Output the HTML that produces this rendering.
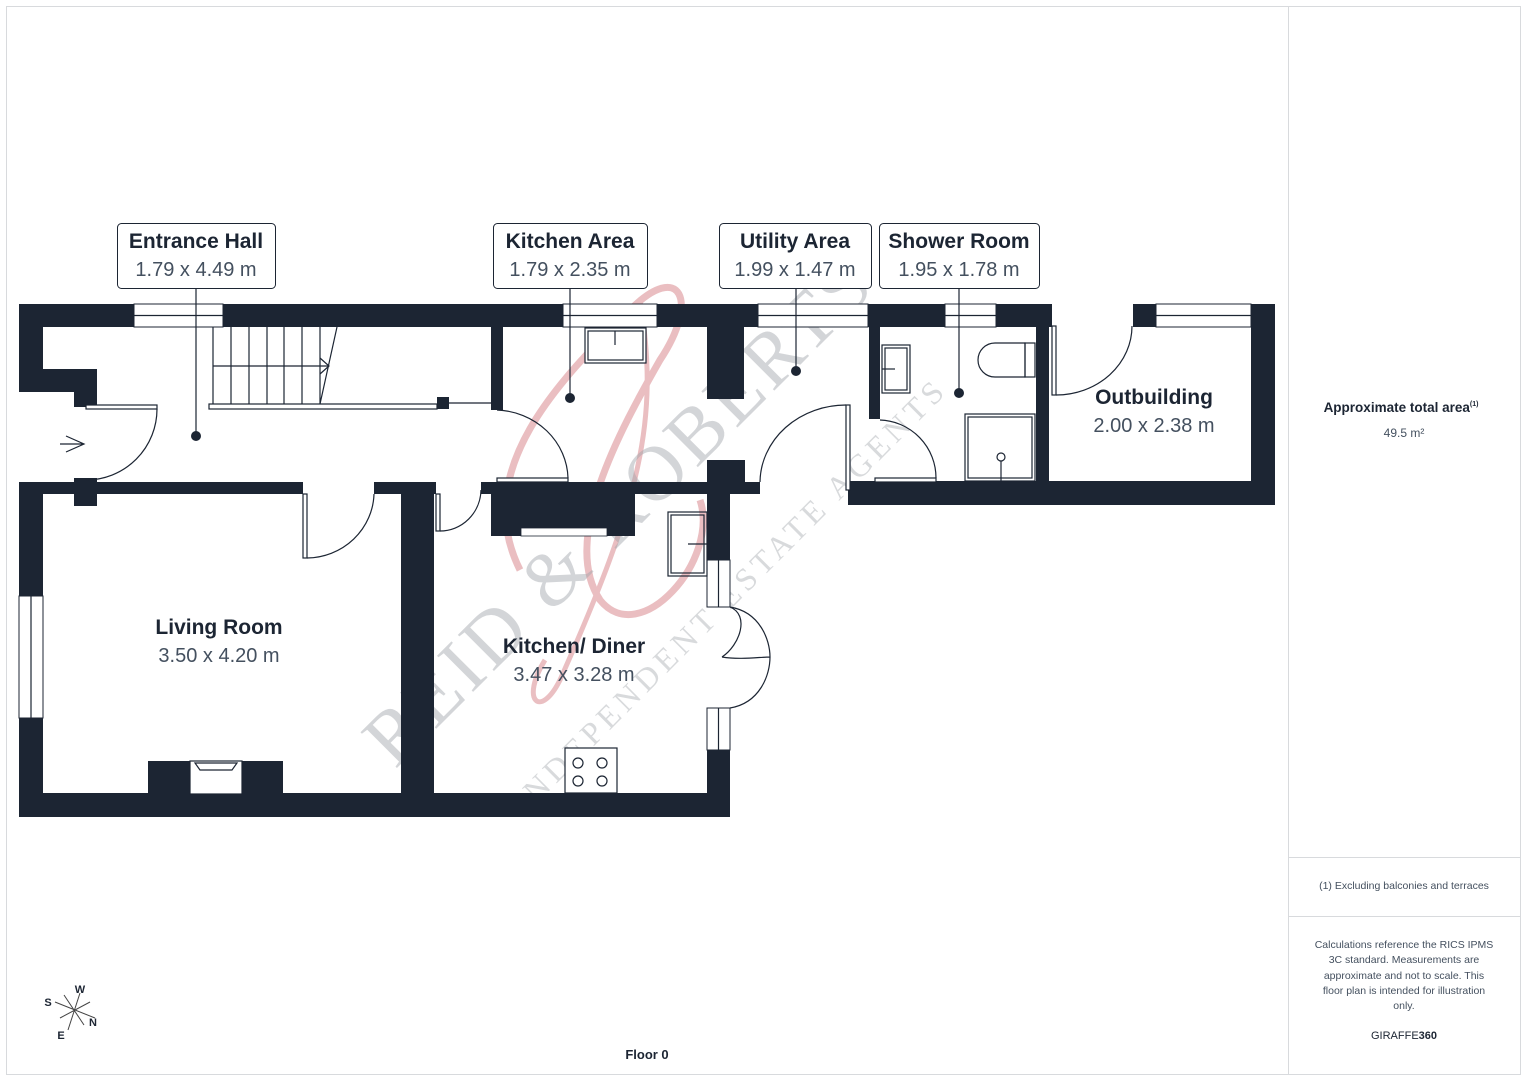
<!DOCTYPE html>
<html><head><meta charset="utf-8"><style>
html,body{margin:0;padding:0;background:#fff;}
svg{display:block;font-family:"Liberation Sans",sans-serif;}
.t{font-weight:bold;font-size:21px;fill:#1c2533;text-anchor:middle;}
.m{font-size:20px;fill:#44505f;text-anchor:middle;}
.w{fill:#1c2533;}
.ln{stroke:#1c2533;stroke-width:1.2;fill:none;}
.win{fill:#fff;stroke:#1c2533;stroke-width:1;}
</style></head><body>
<svg width="1527" height="1080" viewBox="0 0 1527 1080" xmlns="http://www.w3.org/2000/svg">
<rect x="6.5" y="6.5" width="1514" height="1068" fill="none" stroke="#d8dadd" stroke-width="1"/>
<line x1="1288.5" y1="6" x2="1288.5" y2="1075" stroke="#d8dadd"/>
<line x1="1288" y1="857.5" x2="1521" y2="857.5" stroke="#d8dadd"/>
<line x1="1288" y1="916.5" x2="1521" y2="916.5" stroke="#d8dadd"/>

<!-- watermark -->
<g opacity="0.55">
<path d="M520,570 C470,470 560,380 630,310 C680,260 700,300 660,360 C620,430 560,540 600,600 C640,650 720,560 700,500" fill="none" stroke="#d98a8f" stroke-width="7"/>
<path d="M640,300 C660,420 640,500 560,680 C540,720 520,700 545,660" fill="none" stroke="#d98a8f" stroke-width="5"/>
</g>
<g transform="translate(395,770) rotate(-45)" opacity="0.45">
<text x="0" y="0" font-family="Liberation Serif,serif" font-size="78" fill="#a0a4aa" letter-spacing="4">REID &amp; ROBERTS</text>
</g>
<g transform="translate(525,815) rotate(-45)" opacity="0.4">
<text x="0" y="0" font-family="Liberation Serif,serif" font-size="32" fill="#a0a4aa" letter-spacing="5">INDEPENDENT ESTATE AGENTS</text>
</g>

<!-- walls -->
<g class="w">
<rect x="19" y="304" width="115" height="23"/>
<rect x="223" y="304" width="340" height="23"/>
<rect x="657" y="304" width="101" height="23"/>
<rect x="868" y="304" width="77" height="23"/>
<rect x="996" y="304" width="56" height="23"/>
<rect x="1133" y="304" width="23" height="23"/>
<rect x="1251" y="304" width="24" height="201"/>
<rect x="19" y="304" width="24" height="88"/>
<rect x="19" y="369" width="78" height="23"/>
<rect x="74" y="369" width="23" height="38"/>
<rect x="491" y="327" width="12" height="83"/>
<rect x="707" y="327" width="37" height="72"/>
<rect x="869" y="327" width="11" height="92"/>
<rect x="1036" y="327" width="13" height="155"/>
<rect x="848" y="481" width="427" height="24"/>
<rect x="19" y="482" width="284" height="12"/>
<rect x="74" y="478" width="23" height="28"/>
<rect x="19" y="482" width="24" height="114"/>
<rect x="19" y="718" width="24" height="99"/>
<rect x="374" y="482" width="62" height="12"/>
<rect x="401" y="482" width="33" height="311"/>
<rect x="481" y="482" width="279" height="12"/>
<rect x="491" y="494" width="144" height="42"/>
<rect x="707" y="460" width="38" height="33"/>
<rect x="707" y="482" width="23" height="78"/>
<rect x="707" y="750" width="23" height="67"/>
<rect x="19" y="793" width="711" height="24"/>
<rect x="148" y="761" width="42" height="33"/>
<rect x="242" y="761" width="41" height="33"/>
<rect x="437" y="397" width="12" height="12"/>
</g>
<rect x="521" y="528" width="86" height="8" fill="#fff" stroke="#1c2533" stroke-width="0.8"/>

<!-- windows -->
<g>
<rect class="win" x="134" y="304" width="89" height="23"/><line class="ln" x1="134" y1="315.5" x2="223" y2="315.5"/>
<rect class="win" x="563" y="304" width="94" height="23"/><line class="ln" x1="563" y1="315.5" x2="657" y2="315.5"/>
<rect class="win" x="758" y="304" width="110" height="23"/><line class="ln" x1="758" y1="315.5" x2="868" y2="315.5"/>
<rect class="win" x="945" y="304" width="51" height="23"/><line class="ln" x1="945" y1="315.5" x2="996" y2="315.5"/>
<rect class="win" x="1156" y="304" width="95" height="23"/><line class="ln" x1="1156" y1="315.5" x2="1251" y2="315.5"/>
<rect class="win" x="19" y="596" width="24" height="122"/><line class="ln" x1="31" y1="596" x2="31" y2="718"/>
<rect class="win" x="707" y="560" width="23" height="47"/><line class="ln" x1="718.5" y1="560" x2="718.5" y2="607"/>
<rect class="win" x="707" y="708" width="23" height="42"/><line class="ln" x1="718.5" y1="708" x2="718.5" y2="750"/>
</g>

<!-- stairs -->
<g class="ln">
<path d="M213,327 V404 M231,327 V404 M249,327 V404 M267,327 V404 M284,327 V404 M302,327 V404 M320,327 V404 M213,366 H328 M337,327 L320,404"/>
<path d="M320,358 L329,366 L320,374"/>
<rect x="209" y="404" width="228" height="5" fill="#fff"/>
<line x1="449" y1="403" x2="492" y2="403"/>
</g>

<!-- doors -->
<g class="ln">
<rect x="86" y="405" width="71" height="4" fill="#fff"/>
<path d="M157,409 A71,71 0 0 1 86,480"/>
<path d="M66,436 L84,444 L66,452 M60,444 H84"/>
<rect x="303" y="494" width="4" height="64" fill="#fff"/>
<path d="M307,558 A68,66 0 0 0 374,494"/>
<rect x="436" y="494" width="4" height="37" fill="#fff"/>
<path d="M440,531 A41,42 0 0 0 481,490"/>
<rect x="497" y="478" width="71" height="4" fill="#fff"/>
<path d="M568,478 A74,70 0 0 0 497,410"/>
<rect x="846" y="405" width="4" height="85" fill="#fff"/>
<path d="M846,405 A86,78 0 0 0 760,482"/>
<rect x="875" y="478" width="61" height="4" fill="#fff"/>
<path d="M936,478 A58,58 0 0 0 880,420"/>
<rect x="1052" y="326" width="4" height="69" fill="#fff"/>
<path d="M1056,395 A76,69 0 0 0 1132,326"/>
<path d="M730,607 C760,612 770,640 770,657 C760,657 740,660 722,657 M730,708 C760,703 770,675 770,657"/>
<path d="M722,657 C740,645 750,615 730,607"/>
</g>

<!-- fixtures -->
<g class="ln">
<rect x="585" y="328" width="61" height="35" fill="#fff"/><rect x="588" y="331" width="55" height="29"/><line x1="615" y1="331" x2="615" y2="345"/>
<rect x="882" y="345" width="28" height="48"/><rect x="885" y="348" width="22" height="42"/><line x1="882" y1="369" x2="895" y2="369"/>
<path d="M1025,343 H995 A17,17 0 0 0 995,377 H1025 Z"/><rect x="1025" y="343" width="10" height="34"/>
<rect x="965" y="414" width="70" height="67"/><rect x="968" y="417" width="64" height="61"/><circle cx="1001" cy="457" r="4"/><line x1="1001" y1="461" x2="1001" y2="481"/>
<rect x="668" y="512" width="39" height="64"/><rect x="671" y="515" width="33" height="58"/><line x1="688" y1="544" x2="707" y2="544"/>
<rect x="565" y="748" width="52" height="45" fill="#fff"/>
<circle cx="578" cy="763" r="5"/><circle cx="602" cy="763" r="5"/><circle cx="578" cy="781" r="5"/><circle cx="602" cy="781" r="5"/>
<rect x="190" y="761" width="52" height="33" fill="#fff"/><path d="M195,763 H237 L232,770 H200 Z"/>
</g>

<!-- leader lines & dots -->
<g>
<line class="ln" x1="196" y1="289" x2="196" y2="436"/><circle cx="196" cy="436" r="5" fill="#1c2533"/>
<line class="ln" x1="570" y1="289" x2="570" y2="398"/><circle cx="570" cy="398" r="5" fill="#1c2533"/>
<line class="ln" x1="796" y1="289" x2="796" y2="371"/><circle cx="796" cy="371" r="5" fill="#1c2533"/>
<line class="ln" x1="959" y1="289" x2="959" y2="393"/><circle cx="959" cy="393" r="5" fill="#1c2533"/>
</g>

<!-- labels -->
<g>
<rect x="117.5" y="223.5" width="158" height="65" rx="4" fill="#fff" stroke="#1c2533"/>
<text class="t" x="196" y="248">Entrance Hall</text><text class="m" x="196" y="276">1.79 x 4.49 m</text>
<rect x="493.5" y="223.5" width="154" height="65" rx="4" fill="#fff" stroke="#1c2533"/>
<text class="t" x="570" y="248">Kitchen Area</text><text class="m" x="570" y="276">1.79 x 2.35 m</text>
<rect x="719.5" y="223.5" width="152" height="65" rx="4" fill="#fff" stroke="#1c2533"/>
<text class="t" x="795" y="248">Utility Area</text><text class="m" x="795" y="276">1.99 x 1.47 m</text>
<rect x="879.5" y="223.5" width="160" height="65" rx="4" fill="#fff" stroke="#1c2533"/>
<text class="t" x="959" y="248">Shower Room</text><text class="m" x="959" y="276">1.95 x 1.78 m</text>
<text class="t" x="1154" y="404">Outbuilding</text><text class="m" x="1154" y="432">2.00 x 2.38 m</text>
<text class="t" x="219" y="634">Living Room</text><text class="m" x="219" y="662">3.50 x 4.20 m</text>
<text class="t" x="574" y="653">Kitchen/ Diner</text><text class="m" x="574" y="681">3.47 x 3.28 m</text>
</g>

<!-- compass -->
<g stroke="#444" stroke-width="1">
<line x1="55" y1="1002" x2="95" y2="1018"/><line x1="80" y1="993" x2="68" y2="1030"/>
<line x1="60" y1="1018" x2="90" y2="1002"/><line x1="64" y1="995" x2="84" y2="1025"/>
</g>
<g font-weight="bold" font-size="11" fill="#1c2533" text-anchor="middle">
<text x="80" y="993">W</text><text x="48" y="1006">S</text><text x="93" y="1026">N</text><text x="61" y="1039">E</text>
</g>
<text x="647" y="1059" font-weight="bold" font-size="13" fill="#1c2533" text-anchor="middle">Floor 0</text>

<!-- right panel -->
<text x="1401" y="412" font-weight="bold" font-size="13.5" fill="#1c2533" text-anchor="middle">Approximate total area<tspan font-size="7" dy="-6">(1)</tspan></text>
<text x="1404" y="437" font-size="12" fill="#44505f" text-anchor="middle">49.5 m²</text>
<text x="1404" y="889" font-size="10.5" fill="#44505f" text-anchor="middle">(1) Excluding balconies and terraces</text>
<g font-size="10.5" fill="#44505f" text-anchor="middle">
<text x="1404" y="948">Calculations reference the RICS IPMS</text>
<text x="1404" y="963">3C standard. Measurements are</text>
<text x="1404" y="979">approximate and not to scale. This</text>
<text x="1404" y="994">floor plan is intended for illustration</text>
<text x="1404" y="1009">only.</text>
</g>
<text x="1404" y="1039" font-size="11" fill="#1c2533" text-anchor="middle">GIRAFFE<tspan font-weight="bold">360</tspan></text>
</svg>
</body></html>
